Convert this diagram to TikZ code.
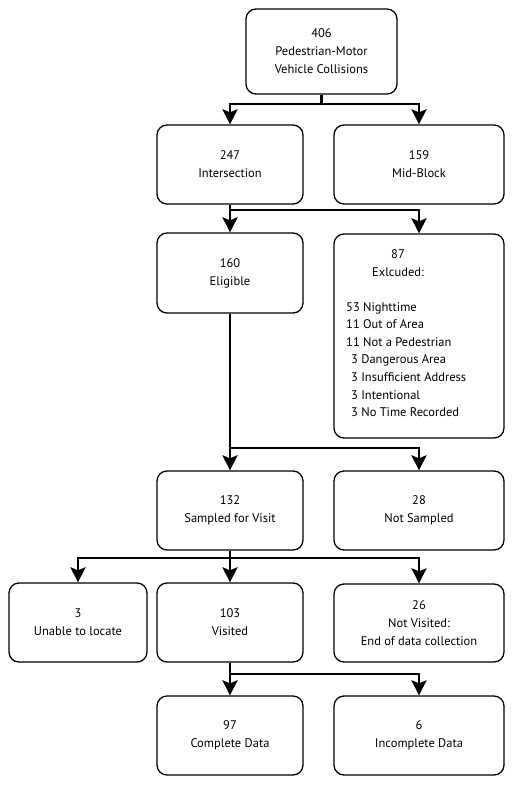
\documentclass[tikz,border=0pt]{standalone}
\usepackage{fontspec}
\setmainfont{PT Sans}
\usetikzlibrary{arrows.meta}
\begin{document}
\begin{tikzpicture}[x=1pt,y=-1pt,
  box/.style={draw, line width=1.3pt, rounded corners=10pt, align=center,
    font=\fontsize{12.5}{18}\selectfont, inner sep=0pt},
  wbox/.style={box, minimum width=146pt, minimum height=79pt},
  rbox/.style={box, minimum width=170pt, minimum height=79pt},
  txt/.style={font=\fontsize{12.5}{17.6}\selectfont, inner sep=0pt},
  conn/.style={line width=2.8pt, -{Stealth[length=15pt,width=15pt,inset=3pt]}},
  link/.style={line width=2.8pt}]
\useasboundingbox (0,0) rectangle (514,785);
\node[box, minimum width=151pt, minimum height=85pt] (top) at (321.5,51.5) {406\\Pedestrian-Motor\\Vehicle Collisions};
\node[wbox] (b247) at (230,164.5) {247\\Intersection};
\node[rbox] (b159) at (419,164.5) {159\\Mid-Block};
\node[wbox, minimum height=80pt] (b160) at (230,273) {160\\Eligible};
\node[box, minimum width=170pt, minimum height=204pt] (exc) at (419,336) {};
\node[txt, align=center] (exchead) at (398,263) {87\\Exlcuded:};
\node[txt, align=left, anchor=north west] (exclist) at (346,302) {53 Nighttime\\11 Out of Area\\11 Not a Pedestrian\\\hspace*{5pt}3 Dangerous Area\\\hspace*{5pt}3 Insufficient Address\\\hspace*{5pt}3 Intentional\\\hspace*{5pt}3 No Time Recorded};
\node[wbox] (b132) at (230,510.5) {132\\Sampled for Visit};
\node[rbox] (b28) at (419,510.5) {28\\Not Sampled};
\node[box, minimum width=138pt, minimum height=79pt] (b3) at (78,622.5) {3\\Unable to locate};
\node[wbox] (b103) at (230,622.5) {103\\Visited};
\node[rbox, minimum height=78pt] (b26) at (419,623) {26\\Not Visited:\\End of data collection};
\node[wbox] (b97) at (230,735.5) {97\\Complete Data};
\node[rbox] (b6) at (419,735.5) {6\\Incomplete Data};
\coordinate (j1) at (321.5,104);
\coordinate (j2) at (230,210);
\coordinate (j3) at (230,448);
\coordinate (j4) at (230,558);
\coordinate (j5) at (230,674);
\draw[link] (top.south) -- (j1);
\draw[conn] (j1) -| (b247.north);
\draw[conn] (j1) -| (b159.north);
\draw[conn] (b247.south) -- (b160.north);
\draw[conn] (j2) -| (exc.north);
\draw[conn] (b160.south) -- (b132.north);
\draw[conn] (j3) -| (b28.north);
\draw[conn] (b132.south) -- (b103.north);
\draw[conn] (j4) -| (b3.north);
\draw[conn] (j4) -| (b26.north);
\draw[conn] (b103.south) -- (b97.north);
\draw[conn] (j5) -| (b6.north);
\end{tikzpicture}
\end{document}
